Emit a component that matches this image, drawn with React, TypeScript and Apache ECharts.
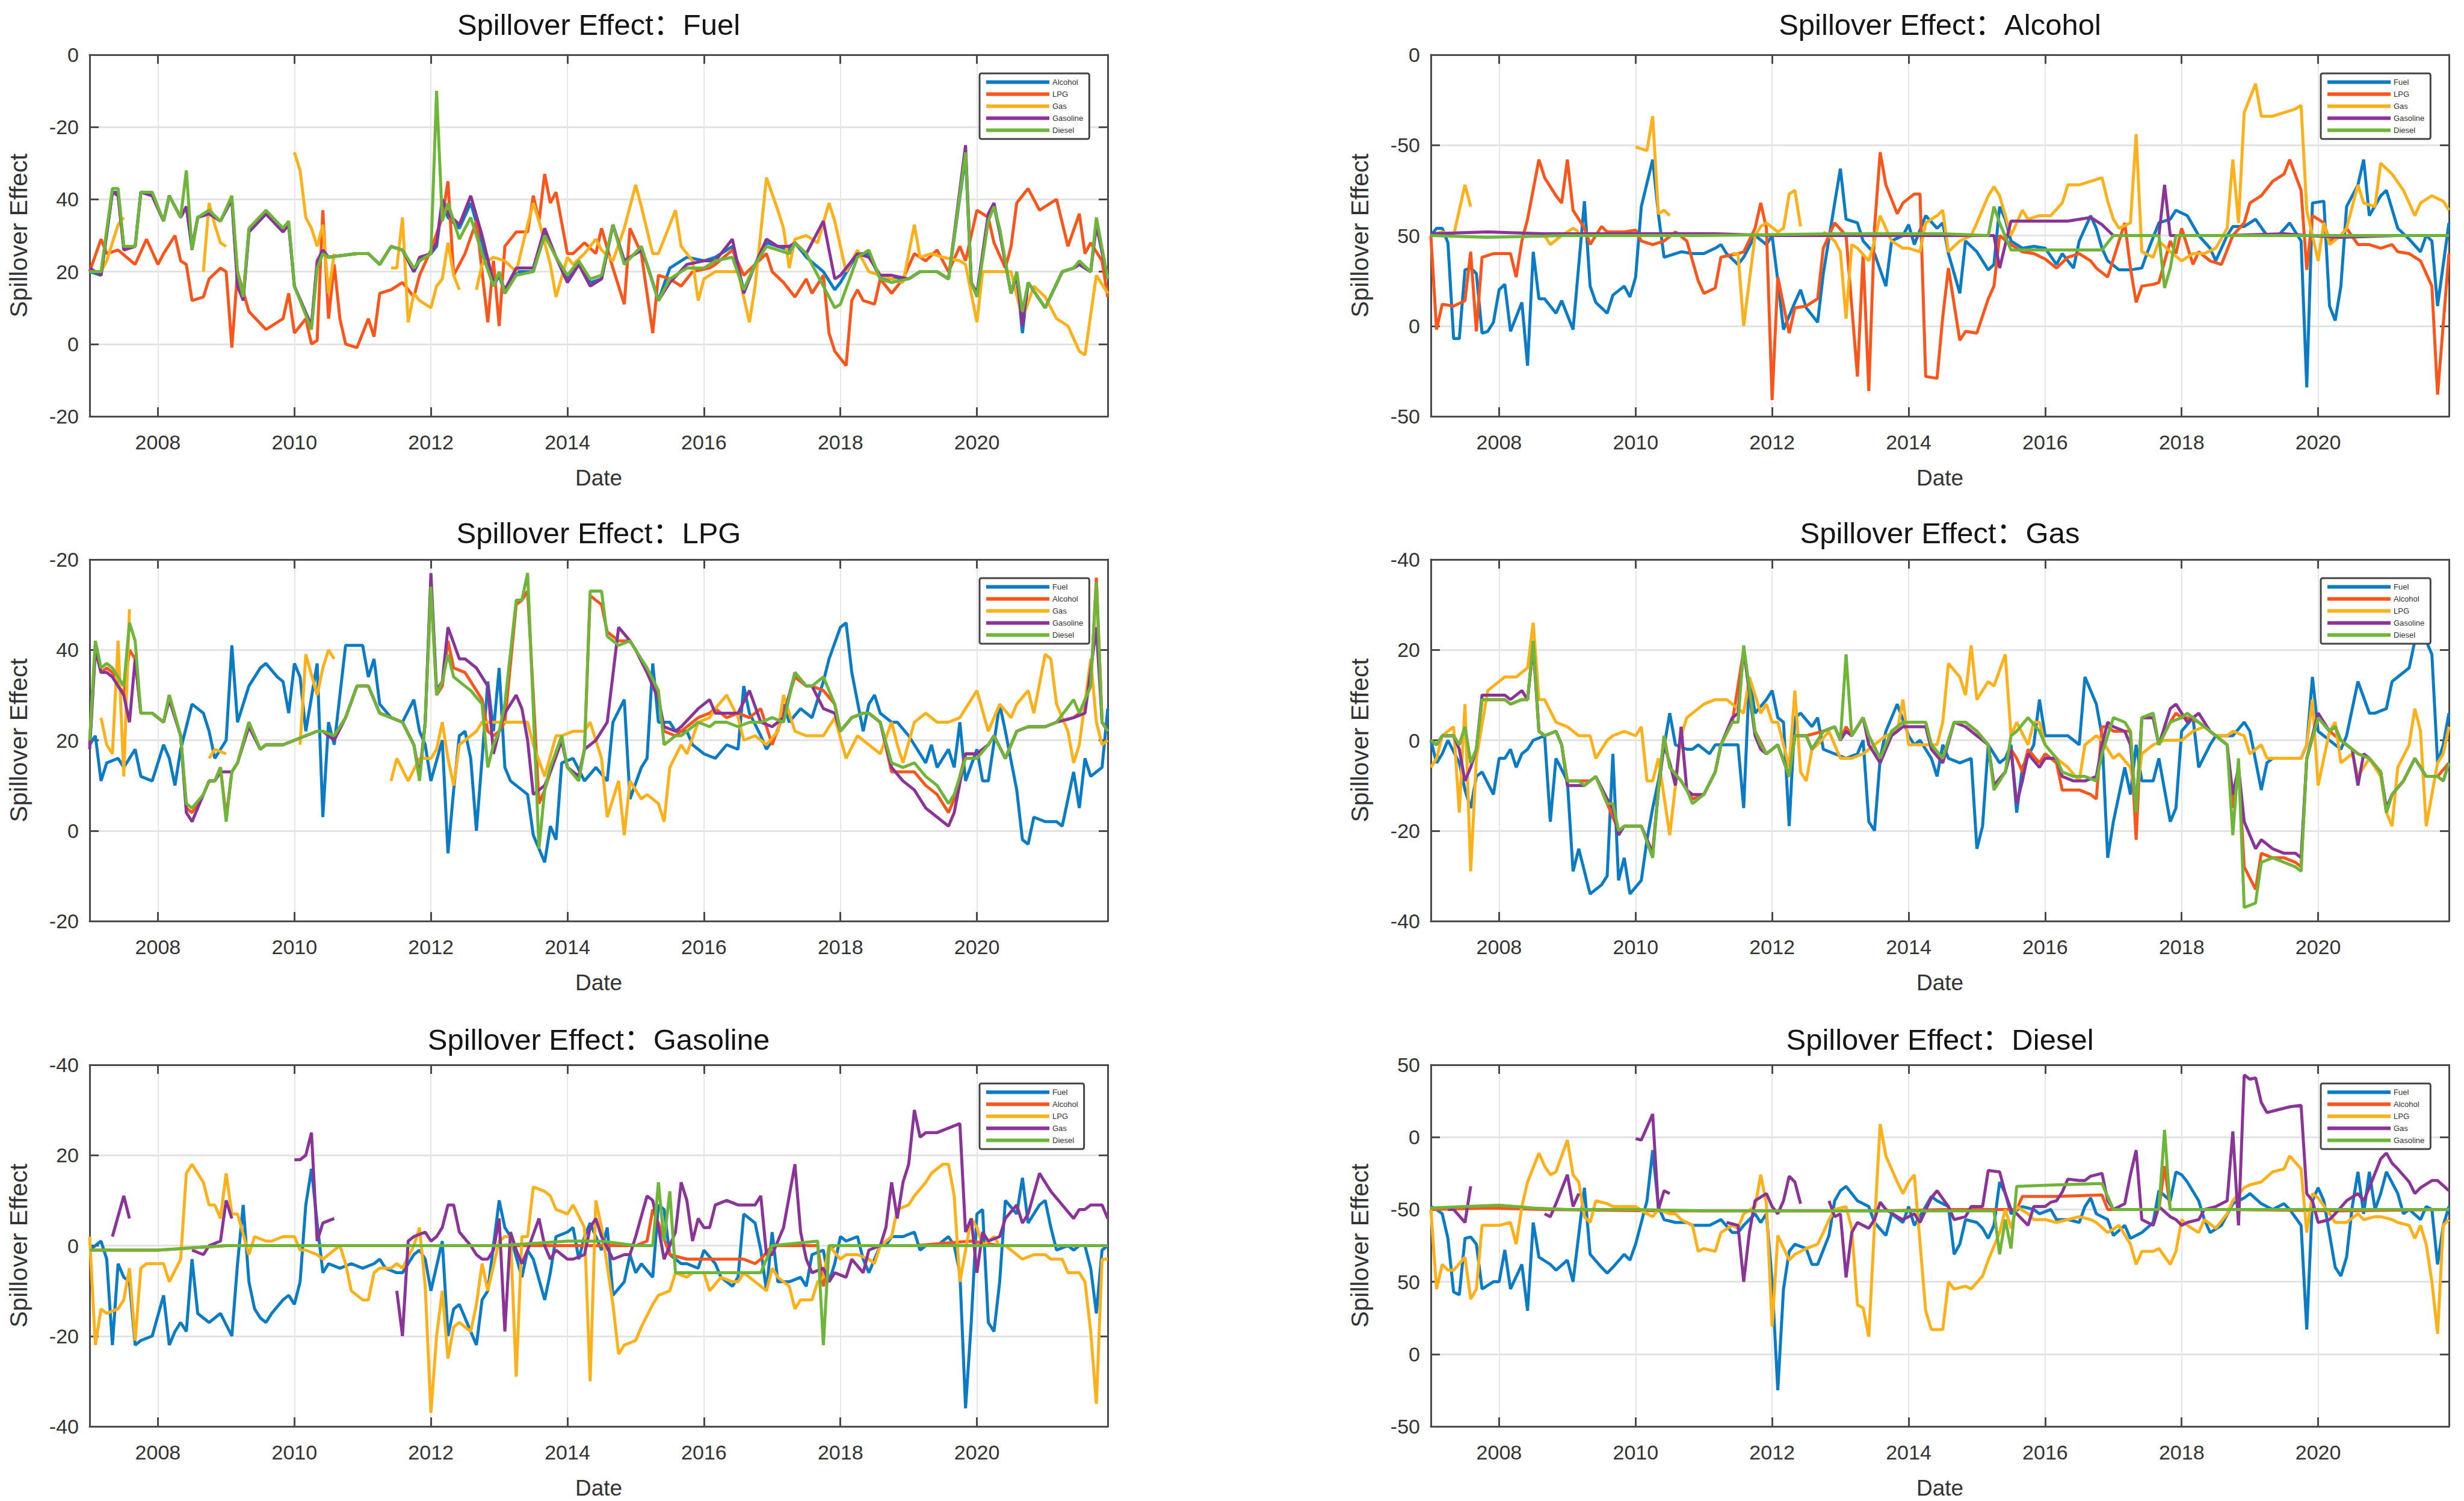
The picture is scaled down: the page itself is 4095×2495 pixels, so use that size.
import React, { useEffect, useRef } from "react";
import * as echarts from "echarts";

// ---------- categories (monthly, Jan 2007 .. Dec 2021) ----------
const MONTHS: string[] = [];
for (let y = 2007; y <= 2021; y++) for (let m = 1; m <= 12; m++) MONTHS.push(`${y}-${String(m).padStart(2, "0")}`);

// ---------- y tick labels as printed ----------
const fuelYTicks = [-20, 0, 20, 40, 60, 80];
const fuelYLabels = ["-20", "0", "20", "40", "-20", "0"];
const alcYTicks = [-50, 0, 50, 100, 150];
const alcYLabels = ["-50", "0", "50", "-50", "0"];
const lpgYTicks = [-20, 0, 20, 40, 60];
const lpgYLabels = ["-20", "0", "20", "40", "-20"];
const gasYTicks = [-40, -20, 0, 20, 40];
const gasYLabels = ["-40", "-20", "0", "20", "-40"];
const gslYTicks = [-40, -20, 0, 20, 40];
const gslYLabels = ["-40", "-20", "0", "20", "-40"];
const dslYTicks = [-50, 0, 50, 100, 150, 200];
const dslYLabels = ["-50", "0", "50", "-50", "0", "50"];

type P = [number, number | null];

// ---------- Fuel panel ----------
const fuelAlcohol: P[] = [[0,20],[2,19],[4,42],[5,42],[6,27],[8,27],[9,42],[11,41],[13,34],[14,41],[16,35],[17,38],[18,26],[19,35],[21,36],[23,34],[25,40],[26,17],[27,13],[28,31],[31,36],[34,31],[35,33],[36,16],[39,5],[40,22],[41,25],[42,24],[47,25],[49,25],[51,22],[53,27],[55,26],[57,20],[58,23],[60,25],[61,27],[62,39],[63,35],[65,32],[67,39],[69,28],[71,16],[72,19],[73,14],[75,20],[78,20],[80,31],[82,24],[84,18],[86,22],[88,17],[90,18],[92,33],[94,23],[97,26],[98,22],[100,12],[102,21],[105,24],[108,23],[110,24],[113,27],[115,15],[117,22],[119,28],[121,27],[123,26],[124,28],[126,24],[129,20],[131,15],[132,17],[135,25],[137,25],[139,18],[141,18],[144,18],[146,20],[149,20],[151,18],[154,52],[155,17],[156,14],[158,35],[159,38],[160,31],[162,14],[163,19],[164,3],[165,17],[168,10],[171,20],[173,21],[174,22],[176,20],[177,33],[179,18]];
const fuelLPG: P[] = [[0,20],[2,29],[3,25],[5,26],[8,22],[10,29],[12,22],[13,25],[15,30],[16,23],[17,22],[18,12],[20,13],[21,18],[23,21],[24,20],[25,-1],[26,20],[28,9],[31,4],[33,6],[34,7],[35,14],[36,3],[38,7],[39,0],[40,1],[41,37],[42,7],[43,22],[44,7],[45,0],[47,-1],[49,7],[50,2],[51,14],[53,15],[55,17],[57,13],[58,19],[60,26],[62,35],[63,45],[64,19],[66,25],[68,34],[70,6],[71,23],[72,5],[73,27],[75,31],[77,31],[78,41],[79,34],[80,47],[81,39],[82,42],[84,25],[85,25],[87,28],[89,25],[90,32],[92,21],[94,11],[95,32],[97,25],[99,3],[100,19],[102,18],[104,16],[106,20],[109,21],[110,22],[113,26],[115,19],[117,22],[119,25],[120,20],[122,17],[124,13],[126,18],[127,14],[129,19],[130,3],[131,-2],[133,-6],[134,12],[135,15],[136,12],[138,11],[139,18],[141,14],[143,18],[145,25],[147,23],[149,26],[151,20],[153,27],[154,23],[156,37],[158,35],[159,28],[161,21],[162,27],[163,39],[165,43],[167,37],[168,38],[170,40],[172,27],[174,36],[175,25],[176,28],[178,23],[179,13]];
const fuelGas: P[] = [[0,20],[2,20],[3,23],[4,28],[5,33],[6,35],[7,null],[20,20],[21,39],[22,33],[23,28],[24,27],[25,null],[36,53],[37,48],[38,35],[39,32],[40,27],[41,33],[42,14],[43,25],[44,null],[53,21],[54,21],[55,35],[56,6],[57,14],[58,12],[60,10],[61,16],[62,18],[63,28],[64,19],[65,15],[66,null],[68,15],[69,22],[71,24],[73,23],[75,20],[77,33],[78,39],[79,34],[81,22],[82,13],[84,24],[85,22],[87,25],[89,29],[90,26],[92,23],[94,32],[96,44],[97,38],[99,25],[100,25],[103,37],[104,27],[106,23],[107,12],[108,18],[110,20],[112,20],[114,20],[116,6],[117,16],[119,46],[121,37],[122,32],[123,21],[124,29],[126,30],[128,28],[130,39],[131,34],[133,20],[135,26],[137,20],[139,19],[141,18],[143,17],[145,33],[146,24],[148,25],[150,24],[153,23],[154,22],[156,6],[157,20],[160,20],[162,20],[164,7],[166,16],[168,13],[170,7],[172,5],[174,-2],[175,-3],[177,19],[179,14]];
const fuelGasoline: P[] = [[0,21],[2,19],[4,42],[5,41],[6,26],[8,27],[9,42],[11,41],[13,34],[14,41],[16,35],[17,38],[18,27],[19,35],[21,36],[23,34],[25,40],[26,16],[27,12],[28,31],[31,36],[34,31],[35,33],[36,16],[39,5],[40,23],[41,26],[42,24],[47,25],[49,25],[51,22],[53,27],[55,26],[57,20],[58,24],[60,25],[61,28],[62,40],[63,36],[65,33],[67,41],[69,30],[71,17],[72,19],[73,15],[75,21],[78,21],[80,32],[82,24],[84,17],[86,22],[88,16],[90,18],[92,33],[94,23],[97,26],[98,22],[100,12],[102,17],[105,22],[108,23],[110,23],[113,29],[115,14],[117,22],[119,29],[121,27],[123,27],[124,28],[126,25],[129,34],[131,18],[132,19],[135,25],[137,24],[139,19],[141,19],[144,18],[146,20],[149,20],[151,18],[154,55],[155,17],[156,14],[158,36],[159,39],[160,31],[162,14],[163,19],[164,5],[165,17],[168,10],[171,20],[173,21],[174,22],[176,20],[177,33],[179,18]];
const fuelDiesel: P[] = [[0,20],[2,20],[4,43],[5,43],[6,27],[8,27],[9,42],[11,42],[13,34],[14,41],[16,35],[17,48],[18,26],[19,35],[21,37],[23,34],[25,41],[26,20],[27,13],[28,32],[31,37],[34,32],[35,34],[36,16],[39,4],[40,21],[41,25],[42,24],[47,25],[49,25],[51,22],[53,27],[55,26],[57,21],[58,23],[60,25],[61,70],[62,34],[63,39],[65,29],[67,35],[69,25],[71,16],[72,20],[73,14],[75,19],[78,20],[80,30],[82,24],[84,19],[86,23],[88,18],[90,19],[92,33],[94,22],[97,27],[98,22],[100,12],[102,18],[105,21],[108,21],[110,23],[113,24],[115,15],[117,22],[119,27],[121,26],[123,25],[124,28],[126,25],[129,16],[131,10],[132,11],[135,24],[137,26],[139,18],[141,17],[144,18],[146,20],[149,20],[151,18],[154,53],[155,17],[156,13],[158,34],[159,38],[160,32],[162,14],[163,20],[164,9],[165,17],[168,10],[171,20],[173,21],[174,23],[176,20],[177,35],[179,18]];

// ---------- Alcohol panel ----------
const alcFuel: P[] = [[0,50],[1,54],[2,54],[3,46],[4,-7],[5,-7],[6,31],[7,32],[8,29],[9,-4],[10,-3],[11,2],[12,20],[13,23],[14,-3],[16,13],[17,-22],[18,41],[19,15],[20,15],[22,7],[23,14],[25,-2],[27,69],[28,22],[29,13],[31,7],[32,17],[34,22],[35,16],[36,27],[37,66],[39,92],[40,62],[41,38],[43,40],[44,41],[46,40],[48,40],[50,43],[51,45],[52,40],[54,34],[55,38],[57,50],[59,45],[60,50],[61,25],[62,-2],[64,13],[65,20],[66,10],[68,2],[69,29],[71,68],[72,87],[73,59],[75,57],[76,47],[78,40],[80,22],[81,47],[83,50],[84,56],[85,45],[87,61],[89,54],[90,57],[91,40],[93,18],[94,47],[95,44],[96,41],[98,31],[99,34],[100,66],[101,59],[102,47],[104,43],[106,44],[108,43],[110,34],[111,40],[113,32],[114,47],[116,61],[117,54],[118,43],[119,36],[121,31],[123,31],[125,32],[126,41],[128,57],[130,59],[131,64],[133,61],[135,50],[137,43],[138,36],[140,50],[141,55],[143,55],[145,59],[147,50],[149,50],[151,57],[153,47],[154,-34],[155,68],[157,69],[158,11],[159,3],[160,22],[161,66],[163,78],[164,92],[165,61],[167,72],[168,75],[170,54],[172,48],[174,41],[175,50],[176,47],[177,11],[179,57]];
const alcLPG: P[] = [[0,50],[1,-2],[2,12],[4,11],[6,14],[7,41],[8,-3],[9,38],[11,40],[14,40],[15,27],[16,47],[17,59],[19,92],[20,82],[22,72],[23,68],[24,92],[25,64],[27,54],[28,45],[30,55],[31,52],[34,52],[36,53],[37,47],[39,45],[41,47],[43,52],[45,47],[47,25],[48,18],[50,21],[51,38],[54,40],[55,41],[57,54],[58,68],[59,54],[60,-41],[61,27],[63,-4],[64,10],[66,11],[68,15],[69,43],[70,50],[71,57],[73,50],[75,-28],[76,40],[77,-36],[78,54],[79,96],[80,78],[82,62],[83,68],[85,73],[86,73],[87,-28],[89,-29],[90,5],[91,32],[93,-8],[94,-3],[96,-4],[98,15],[99,22],[100,50],[102,45],[104,41],[106,40],[108,37],[110,32],[112,38],[114,40],[116,36],[117,32],[119,27],[121,47],[122,57],[123,32],[124,13],[125,22],[127,23],[128,24],[130,47],[131,40],[132,54],[134,34],[135,41],[137,36],[139,34],[141,50],[143,57],[144,68],[146,72],[148,80],[150,84],[151,92],[153,75],[154,31],[155,61],[157,57],[158,47],[160,50],[161,54],[163,45],[165,45],[167,43],[169,45],[170,41],[172,40],[174,36],[176,22],[177,-38],[179,40]];
const alcGas: P[] = [[0,50],[2,52],[4,50],[6,78],[7,66],[8,null],[20,50],[21,45],[23,50],[25,54],[26,52],[27,null],[36,99],[38,97],[39,116],[40,62],[41,64],[42,61],[43,null],[53,40],[54,40],[55,0],[57,50],[58,55],[59,57],[61,52],[62,54],[63,73],[64,75],[65,55],[66,null],[69,52],[71,47],[72,41],[73,4],[74,45],[75,43],[77,36],[78,47],[79,61],[80,54],[81,47],[83,43],[84,43],[86,41],[87,57],[89,61],[90,64],[91,41],[93,47],[95,50],[96,57],[98,72],[99,77],[100,72],[102,50],[104,64],[105,59],[107,61],[109,61],[111,68],[112,78],[114,78],[116,80],[118,82],[119,69],[120,59],[121,54],[123,57],[124,106],[125,41],[127,38],[128,47],[130,41],[132,36],[134,40],[136,40],[138,43],[140,54],[141,92],[142,57],[143,118],[145,134],[146,116],[148,116],[150,118],[152,120],[153,122],[154,64],[156,36],[157,57],[158,45],[160,50],[161,54],[163,78],[164,68],[166,66],[167,90],[169,84],[171,75],[173,61],[174,68],[176,72],[178,69],[179,64]];
const alcGasoline: P[] = [[0,51],[10,52],[20,51],[30,51],[40,51],[50,51],[60,50],[70,50],[80,50],[90,50],[99,50],[100,32],[102,58],[105,58],[112,58],[116,60],[118,56],[120,50],[128,50],[129,78],[130,50],[140,50],[150,51],[154,50],[160,49],[170,50],[179,50]];
const alcDiesel: P[] = [[0,50],[10,49],[24,50],[48,50],[72,51],[90,51],[98,50],[99,66],[100,57],[102,42],[110,42],[118,42],[120,50],[128,50],[129,21],[130,32],[131,50],[150,50],[165,50],[179,50]];

// ---------- LPG panel ----------
const lpgFuel: P[] = [[0,19],[1,21],[2,11],[3,15],[5,16],[6,14],[8,18],[9,12],[11,11],[13,19],[14,16],[15,10],[16,18],[18,28],[20,26],[21,22],[22,16],[24,20],[25,41],[26,24],[28,32],[30,36],[31,37],[33,34],[34,33],[35,26],[36,37],[37,34],[38,22],[40,37],[41,3],[42,24],[43,19],[45,41],[46,41],[48,41],[49,34],[50,38],[51,28],[53,25],[55,24],[57,29],[58,22],[59,19],[60,11],[62,20],[63,-5],[64,9],[65,21],[66,22],[67,16],[68,0],[69,16],[70,33],[71,22],[72,36],[73,14],[74,11],[76,9],[77,8],[78,-1],[80,-7],[81,1],[82,-2],[83,15],[85,16],[87,11],[89,14],[91,11],[92,24],[94,29],[95,7],[97,14],[98,16],[99,37],[100,24],[102,24],[103,22],[105,22],[106,19],[108,17],[110,16],[112,19],[114,18],[115,32],[116,26],[118,21],[119,18],[121,22],[122,28],[123,24],[125,27],[127,25],[129,33],[130,38],[132,45],[133,46],[134,35],[136,22],[137,28],[138,30],[139,26],[141,24],[142,24],[144,21],[146,17],[147,15],[148,19],[149,14],[151,18],[152,14],[153,24],[154,11],[156,18],[157,11],[158,11],[160,28],[161,22],[163,9],[164,-2],[165,-3],[166,3],[168,2],[170,2],[171,1],[173,13],[174,5],[175,16],[176,12],[178,14],[179,27]];
const lpgAlcohol: P[] = [[0,19],[1,41],[2,35],[3,36],[4,35],[6,30],[7,40],[8,38],[9,26],[11,26],[13,24],[14,30],[16,21],[17,5],[18,4],[20,8],[21,11],[22,11],[23,14],[24,3],[25,13],[26,15],[28,24],[30,18],[31,19],[34,19],[36,20],[38,21],[40,22],[41,22],[43,21],[45,25],[47,32],[49,32],[51,26],[53,25],[55,24],[57,19],[58,12],[59,24],[60,55],[61,30],[62,32],[63,42],[64,36],[66,35],[67,33],[69,29],[70,22],[71,21],[72,22],[73,24],[75,50],[76,51],[77,53],[78,30],[79,6],[80,9],[81,13],[83,20],[84,14],[86,12],[87,18],[88,52],[90,50],[91,44],[93,42],[95,42],[96,40],[98,35],[100,30],[101,22],[103,21],[104,22],[107,25],[109,26],[110,27],[112,25],[114,26],[116,25],[118,27],[120,19],[122,26],[124,34],[126,32],[127,32],[129,31],[131,28],[132,22],[134,25],[136,26],[137,26],[139,24],[141,13],[143,13],[145,13],[147,10],[149,8],[151,4],[152,7],[154,17],[156,17],[158,19],[159,21],[161,16],[163,22],[165,23],[168,23],[170,24],[173,25],[174,26],[176,32],[177,56],[178,24],[179,22]];
const lpgGas: P[] = [[2,25],[3,19],[4,17],[5,42],[6,12],[7,49],[8,null],[21,16],[22,18],[24,17],[25,null],[37,19],[38,39],[40,30],[41,36],[42,40],[43,38],[44,null],[53,11],[54,16],[56,11],[58,16],[60,16],[61,18],[62,24],[63,16],[64,10],[65,19],[68,22],[69,24],[71,24],[73,24],[75,24],[77,24],[78,19],[80,12],[82,21],[83,21],[85,22],[87,22],[88,24],[90,16],[91,3],[93,11],[94,-1],[95,11],[97,7],[98,8],[100,6],[101,2],[102,14],[104,19],[105,17],[107,24],[109,25],[110,27],[112,30],[114,25],[115,20],[117,21],[119,19],[121,22],[122,30],[124,22],[126,21],[127,21],[129,21],[131,25],[133,16],[135,21],[137,19],[139,17],[141,24],[142,19],[143,15],[145,24],[147,26],[149,24],[151,24],[153,25],[154,27],[156,31],[158,22],[159,25],[160,28],[162,25],[163,28],[165,31],[166,26],[168,39],[169,38],[170,28],[172,22],[173,15],[174,19],[176,38],[177,24],[178,19],[179,20]];
const lpgGasoline: P[] = [[0,18],[1,40],[2,35],[3,35],[4,34],[6,30],[7,24],[8,38],[9,26],[11,26],[13,24],[14,29],[16,21],[17,4],[18,2],[20,8],[21,11],[22,11],[23,13],[24,13],[25,13],[26,15],[28,23],[30,18],[31,19],[34,19],[36,20],[38,21],[40,22],[41,22],[43,20],[45,25],[47,32],[49,32],[51,26],[53,25],[55,24],[57,19],[58,12],[59,24],[60,57],[61,31],[62,33],[63,45],[65,38],[66,38],[68,36],[70,32],[71,17],[72,22],[73,26],[75,30],[76,27],[77,20],[78,8],[79,9],[80,10],[81,13],[83,20],[84,14],[86,12],[87,18],[89,20],[91,24],[93,45],[95,42],[96,40],[98,35],[100,29],[101,23],[103,22],[104,23],[107,27],[109,29],[110,26],[112,26],[114,26],[116,31],[118,24],[120,23],[122,25],[124,35],[126,32],[127,32],[129,27],[131,26],[132,22],[134,25],[136,26],[137,26],[139,24],[141,14],[143,11],[145,9],[147,5],[149,3],[151,1],[152,4],[154,17],[156,17],[158,19],[159,21],[161,16],[163,22],[165,23],[168,23],[170,24],[173,25],[175,26],[177,45],[178,24],[179,22]];
const lpgDiesel: P[] = [[0,20],[1,42],[2,36],[3,37],[4,36],[6,32],[7,46],[8,42],[9,26],[11,26],[13,24],[14,30],[16,21],[17,6],[18,5],[20,8],[21,11],[22,11],[23,14],[24,2],[25,13],[26,15],[28,24],[30,18],[31,19],[34,19],[36,20],[38,21],[40,22],[41,22],[43,21],[45,25],[47,32],[49,32],[51,26],[53,25],[55,24],[57,19],[58,11],[59,24],[60,54],[61,30],[62,33],[63,39],[64,34],[66,32],[67,31],[69,28],[70,14],[71,19],[72,22],[73,28],[75,51],[76,51],[77,57],[78,27],[79,-4],[80,9],[81,14],[83,21],[84,14],[86,11],[87,18],[88,53],[90,53],[91,43],[93,41],[95,42],[96,40],[98,36],[100,31],[101,19],[103,21],[104,21],[107,24],[109,23],[110,24],[112,24],[114,23],[116,24],[118,24],[120,25],[122,24],[124,35],[126,32],[127,32],[129,34],[131,28],[132,22],[134,25],[136,26],[137,26],[139,24],[141,15],[143,14],[145,15],[147,12],[149,10],[151,6],[152,8],[154,16],[156,16],[158,19],[159,21],[161,16],[163,22],[165,23],[168,23],[170,24],[173,29],[174,26],[176,32],[177,55],[178,24],[179,22]];

// ---------- Gas panel ----------
const gasFuel: P[] = [[0,0],[1,-5],[2,-3],[3,0],[5,-5],[6,-11],[7,-15],[8,-8],[9,-7],[11,-12],[12,-4],[13,-4],[14,-2],[15,-6],[16,-3],[17,-2],[18,0],[20,1],[21,-18],[22,-4],[24,-9],[25,-29],[26,-24],[27,-29],[28,-34],[29,-33],[30,-32],[31,-30],[32,-3],[33,-31],[34,-26],[35,-34],[37,-31],[38,-22],[39,-15],[40,-9],[42,6],[43,-1],[45,-2],[46,-2],[47,-1],[49,-3],[50,-1],[52,-1],[54,-1],[55,-15],[56,14],[57,6],[59,9],[60,11],[61,5],[62,4],[63,-19],[64,5],[65,6],[67,3],[68,5],[69,-2],[71,-3],[73,-4],[75,-3],[76,0],[77,-18],[78,-20],[79,-4],[80,2],[82,8],[84,1],[85,-1],[86,0],[88,-4],[89,-8],[90,-1],[91,-4],[93,-5],[95,-4],[96,-24],[97,-19],[98,-1],[100,-5],[101,-4],[102,-1],[103,-16],[104,-6],[106,-1],[107,9],[108,1],[110,1],[112,1],[114,-1],[115,14],[117,8],[118,1],[119,-26],[120,-18],[122,-6],[123,-12],[124,-1],[125,-9],[127,-9],[128,-4],[130,-18],[131,-15],[132,2],[134,5],[135,-6],[137,-1],[138,1],[140,1],[141,1],[143,4],[144,2],[146,-11],[147,-5],[148,-4],[150,-4],[152,-4],[153,-4],[154,-1],[155,14],[156,2],[158,0],[160,-2],[161,1],[163,13],[165,6],[166,6],[168,7],[169,13],[170,14],[172,16],[173,22],[175,22],[176,19],[177,-5],[178,-1],[179,6]];
const gasAlcohol: P[] = [[0,0],[1,-1],[2,1],[4,1],[5,-1],[6,3],[7,-5],[8,-2],[9,9],[11,9],[13,9],[14,8],[16,9],[17,9],[18,21],[19,2],[20,1],[22,2],[23,-1],[24,-9],[26,-9],[28,-9],[29,-8],[31,-14],[33,-20],[34,-19],[37,-19],[39,-25],[40,-11],[41,1],[42,-6],[44,-9],[46,-13],[48,-12],[50,-7],[51,-1],[53,4],[55,20],[57,2],[59,-3],[61,-1],[63,-8],[64,1],[66,1],[69,2],[71,3],[72,0],[73,3],[74,1],[76,5],[77,1],[79,-4],[81,2],[83,4],[87,4],[88,-1],[90,-4],[92,4],[94,4],[96,2],[98,-1],[99,-10],[101,-7],[102,-2],[103,-4],[104,-7],[105,-2],[107,-5],[108,-3],[110,-5],[111,-11],[112,-11],[114,-11],[116,-12],[117,-13],[118,3],[119,3],[120,2],[123,2],[124,-22],[125,5],[127,5],[128,-1],[130,4],[131,6],[132,5],[133,5],[135,4],[137,2],[138,1],[140,-1],[141,-15],[142,-6],[143,-28],[145,-33],[146,-25],[148,-26],[150,-26],[152,-27],[153,-28],[154,-4],[156,5],[158,2],[160,0],[162,-2],[163,-3],[165,-4],[167,-7],[168,-16],[169,-12],[171,-9],[173,-4],[175,-8],[177,-8],[179,-5]];
const gasLPG: P[] = [[0,-6],[1,-4],[2,1],[4,3],[5,-16],[6,8],[7,-29],[8,-4],[10,11],[11,12],[13,14],[15,14],[17,16],[18,26],[19,9],[20,9],[22,4],[24,3],[26,1],[28,1],[29,-4],[31,0],[32,1],[34,2],[36,1],[37,3],[38,-9],[39,-9],[40,-4],[42,-21],[43,-10],[44,1],[45,5],[47,7],[48,8],[50,9],[52,9],[54,7],[55,6],[56,14],[58,6],[59,8],[60,4],[61,4],[63,-6],[64,11],[65,-7],[66,-9],[67,-2],[68,-1],[70,2],[71,-1],[72,-4],[74,-4],[76,-3],[78,-1],[80,1],[82,2],[83,9],[84,-1],[85,-1],[87,-1],[89,-1],[90,4],[91,17],[93,14],[94,10],[95,21],[96,9],[98,13],[99,12],[101,19],[102,1],[103,4],[105,-1],[106,4],[107,4],[108,-1],[110,-4],[112,-6],[114,-9],[115,-1],[117,1],[118,0],[120,-4],[121,-3],[123,-6],[124,-13],[125,-3],[127,-1],[129,0],[130,0],[132,0],[134,2],[136,3],[138,1],[140,1],[141,2],[143,1],[144,-3],[146,-1],[147,-4],[149,-4],[151,-4],[153,-4],[154,-1],[155,9],[156,-10],[158,2],[159,4],[160,-5],[162,-3],[163,-8],[165,-4],[167,-8],[168,-16],[169,-19],[170,-6],[172,-1],[173,7],[174,2],[175,-19],[177,-5],[178,-3],[179,3]];
const gasGasoline: P[] = [[0,0],[1,-1],[2,1],[4,1],[5,-2],[6,-9],[7,-6],[8,-2],[9,10],[11,10],[13,10],[14,9],[16,11],[17,9],[18,21],[19,2],[20,1],[22,2],[23,-1],[24,-10],[26,-10],[27,-10],[28,-9],[29,-8],[31,-13],[32,-15],[33,-21],[34,-19],[36,-19],[37,-19],[39,-25],[40,-11],[41,-1],[42,-5],[43,-10],[44,3],[45,-11],[46,-12],[48,-12],[50,-7],[51,-1],[53,5],[54,6],[55,20],[57,1],[58,-2],[59,-3],[61,-1],[63,-8],[64,1],[66,1],[67,-2],[69,2],[71,3],[72,0],[73,2],[74,1],[76,5],[77,-1],[79,-5],[81,1],[83,3],[85,3],[87,3],[88,-2],[90,-5],[92,4],[94,3],[96,1],[98,-1],[99,-10],[101,-7],[102,-2],[103,-14],[104,-9],[105,-3],[107,-6],[108,-4],[110,-4],[111,-8],[113,-9],[115,-9],[117,-8],[118,-1],[119,4],[120,3],[122,2],[123,-1],[124,-15],[125,5],[127,5],[128,-1],[130,7],[131,8],[132,6],[133,4],[135,6],[137,2],[138,1],[140,-1],[141,-12],[142,-6],[143,-18],[145,-24],[146,-22],[148,-24],[150,-25],[152,-25],[153,-26],[154,-4],[156,6],[158,2],[159,3],[160,0],[162,-2],[163,-10],[164,-3],[165,-4],[167,-7],[168,-15],[169,-12],[171,-9],[173,-4],[175,-8],[177,-8],[178,-9],[179,-5]];
const gasDiesel: P[] = [[0,0],[1,-1],[2,1],[4,1],[5,-1],[6,3],[7,-5],[8,-2],[9,9],[11,9],[13,9],[14,8],[16,9],[17,9],[18,22],[19,2],[20,1],[22,2],[23,-1],[24,-9],[26,-9],[27,-10],[28,-9],[29,-8],[31,-14],[32,-14],[33,-20],[34,-19],[36,-19],[37,-19],[39,-26],[40,-11],[41,1],[42,-6],[44,-9],[45,-11],[46,-14],[48,-12],[50,-7],[51,-1],[53,4],[54,4],[55,21],[57,2],[58,-1],[59,-3],[61,-1],[63,-8],[64,1],[66,1],[67,-2],[69,2],[71,3],[72,0],[73,19],[74,1],[76,5],[77,1],[79,-4],[81,2],[83,4],[85,4],[87,4],[88,-1],[90,-4],[92,4],[94,4],[96,2],[98,-1],[99,-11],[101,-7],[102,1],[103,2],[105,5],[107,2],[108,-1],[110,-4],[111,-7],[113,-8],[115,-8],[117,-9],[118,-3],[120,5],[122,4],[123,2],[124,-16],[125,5],[127,6],[128,-1],[130,4],[132,5],[133,6],[135,4],[137,2],[138,1],[140,-1],[141,-21],[142,-4],[143,-37],[145,-36],[146,-27],[148,-26],[150,-27],[152,-28],[153,-29],[154,-4],[156,5],[158,2],[159,3],[160,0],[162,-2],[163,-3],[165,-4],[167,-7],[168,-16],[169,-12],[171,-9],[173,-4],[175,-8],[177,-8],[178,-9],[179,-5]];

// ---------- Gasoline panel ----------
const gslFuel: P[] = [[0,-1],[2,1],[3,-3],[4,-22],[5,-4],[6,-7],[7,-8],[8,-22],[9,-21],[11,-20],[13,-11],[14,-22],[15,-19],[16,-17],[17,-19],[18,-3],[19,-15],[21,-17],[22,-16],[23,-15],[25,-20],[26,-4],[27,9],[28,-8],[29,-14],[30,-16],[31,-17],[32,-15],[34,-12],[35,-11],[36,-13],[37,-8],[38,9],[39,17],[40,5],[41,-6],[42,-4],[44,-5],[46,-4],[48,-5],[50,-4],[51,-3],[52,-5],[54,-6],[55,-6],[57,-2],[58,-1],[59,-3],[60,-10],[62,1],[63,-20],[64,-14],[65,-13],[66,-16],[68,-22],[69,-12],[70,-10],[71,0],[72,10],[73,4],[74,2],[76,-7],[77,-1],[78,-3],[80,-12],[81,-6],[82,2],[84,3],[85,4],[86,-3],[87,2],[88,5],[90,-1],[91,4],[92,-11],[94,-8],[95,-2],[96,-6],[97,-4],[99,-7],[100,9],[101,8],[102,-2],[104,-4],[105,-4],[107,-5],[108,-1],[110,-4],[111,-7],[113,-9],[114,-7],[115,7],[117,5],[118,-1],[119,-10],[120,3],[121,-8],[123,-8],[125,-7],[126,-9],[127,-2],[129,-1],[130,-8],[131,-4],[132,2],[133,1],[135,2],[136,-3],[137,-6],[139,0],[140,0],[141,2],[143,2],[145,3],[146,-1],[147,0],[149,0],[151,2],[152,0],[153,-6],[154,-36],[155,-17],[156,7],[157,8],[158,-17],[159,-19],[160,-8],[161,10],[163,7],[164,15],[165,5],[167,9],[168,10],[169,4],[170,-1],[172,0],[173,-1],[174,0],[175,0],[176,-5],[177,-15],[178,-1],[179,0]];
const gslAlcohol: P[] = [[0,-1],[12,-1],[24,0],[36,0],[48,0],[60,0],[72,0],[84,0],[96,0],[98,1],[99,8],[100,5],[102,-2],[105,-3],[110,-3],[115,-3],[117,-4],[118,-3],[120,0],[128,0],[129,-9],[130,-1],[131,0],[145,0],[155,1],[160,0],[179,0]];
const gslLPG: P[] = [[0,2],[1,-22],[2,-14],[3,-15],[5,-14],[6,-12],[7,-5],[8,-21],[9,-5],[10,-4],[11,-4],[13,-4],[14,-8],[16,-3],[17,16],[18,18],[20,14],[21,9],[22,9],[23,6],[24,16],[25,7],[26,7],[28,-2],[29,2],[31,1],[32,1],[34,2],[36,2],[37,-1],[38,-1],[40,-2],[41,-3],[43,-1],[44,0],[45,-4],[46,-10],[48,-12],[49,-12],[50,-6],[51,-5],[53,-5],[54,-4],[55,-5],[57,0],[58,4],[59,-9],[60,-37],[61,-20],[62,-10],[63,-25],[64,-18],[65,-17],[67,-19],[68,-13],[69,-4],[70,-10],[72,1],[73,2],[74,2],[75,-29],[76,2],[77,2],[78,13],[80,12],[81,11],[82,8],[84,7],[85,9],[87,4],[88,-30],[89,10],[90,4],[92,-13],[93,-24],[94,-22],[96,-21],[97,-18],[99,-13],[100,-11],[102,-10],[103,-6],[105,-7],[106,-6],[108,-6],[109,-10],[111,-7],[113,-8],[114,-8],[115,-6],[117,-8],[119,-10],[120,-5],[121,-7],[123,-9],[124,-14],[125,-12],[127,-12],[128,-8],[129,-7],[130,0],[132,-3],[133,-2],[135,-2],[137,-3],[138,-4],[139,0],[141,2],[142,8],[144,9],[145,11],[147,14],[148,16],[150,18],[151,18],[152,11],[153,-8],[155,6],[156,4],[157,0],[159,2],[160,0],[161,0],[163,-2],[164,-3],[166,-2],[168,-2],[169,-3],[171,-3],[172,-6],[174,-6],[175,-8],[176,-19],[177,-35],[178,-3],[179,-3]];
const gslGas: P[] = [[4,2],[6,11],[7,6],[8,null],[18,-1],[20,-2],[21,0],[23,1],[24,10],[25,6],[26,null],[36,19],[37,19],[38,20],[39,25],[40,1],[41,5],[43,6],[44,null],[54,-10],[55,-20],[56,1],[57,2],[59,3],[60,1],[61,2],[62,4],[63,9],[64,9],[65,3],[67,0],[68,-2],[69,-3],[70,-3],[71,-1],[72,6],[73,-19],[74,3],[75,-1],[76,-4],[77,-1],[79,6],[80,0],[81,-3],[82,-1],[84,-3],[85,-3],[87,-2],[88,4],[89,6],[90,2],[92,-3],[94,-2],[95,-2],[96,2],[98,11],[99,10],[100,4],[101,-3],[103,3],[104,14],[105,10],[106,1],[107,6],[108,4],[109,4],[110,9],[112,10],[114,9],[115,9],[117,9],[118,11],[119,-2],[120,-2],[121,1],[122,4],[124,18],[125,3],[126,-3],[127,-6],[129,-5],[130,-8],[131,-6],[133,-7],[134,-3],[136,-6],[137,-1],[139,0],[140,4],[141,14],[142,6],[143,14],[144,18],[145,30],[146,24],[147,25],[149,25],[151,26],[153,27],[154,3],[155,6],[156,-6],[157,3],[158,1],[160,2],[161,6],[163,9],[164,5],[165,7],[167,16],[168,14],[169,12],[171,9],[173,6],[174,8],[175,8],[176,9],[178,9],[179,6]];
const gslDiesel: P[] = [[0,-1],[12,-1],[24,0],[48,0],[72,0],[84,1],[90,1],[96,0],[99,0],[100,14],[101,1],[102,12],[103,-6],[110,-6],[118,-6],[120,0],[128,1],[129,-22],[130,0],[145,0],[160,0],[179,0]];

// ---------- Diesel panel ----------
const dslFuel: P[] = [[0,102],[1,100],[2,97],[3,80],[4,43],[5,41],[6,80],[7,81],[8,76],[9,45],[11,50],[12,50],[13,72],[14,45],[16,62],[17,30],[18,91],[19,67],[21,62],[22,58],[24,65],[25,50],[27,115],[28,69],[30,60],[31,56],[32,60],[34,69],[35,65],[36,76],[38,106],[39,141],[40,102],[41,93],[43,91],[45,91],[46,89],[48,89],[49,89],[51,93],[53,84],[54,84],[55,89],[57,97],[58,91],[59,97],[60,50],[61,-25],[62,45],[63,71],[64,76],[66,73],[67,62],[68,62],[70,82],[71,106],[72,113],[73,116],[75,106],[76,104],[77,102],[78,91],[80,82],[81,97],[83,91],[84,102],[85,89],[87,102],[88,109],[89,106],[91,102],[92,69],[93,76],[94,93],[96,91],[97,87],[98,80],[99,89],[100,119],[101,111],[102,97],[104,102],[106,100],[107,97],[109,100],[110,93],[112,93],[114,91],[115,102],[116,108],[117,97],[119,93],[120,82],[122,89],[123,80],[125,84],[127,91],[128,113],[130,106],[131,126],[132,124],[133,119],[135,106],[136,93],[137,84],[139,89],[141,104],[143,108],[144,111],[146,104],[148,100],[150,104],[151,100],[153,89],[154,17],[155,106],[156,115],[157,106],[159,60],[160,54],[161,67],[162,102],[163,126],[164,97],[165,126],[166,100],[167,111],[168,126],[170,111],[171,97],[172,100],[174,93],[175,102],[176,100],[177,62],[178,89],[179,102]];
const dslAlcohol: P[] = [[0,100],[10,101],[20,100],[40,99],[60,99],[80,99],[90,100],[103,100],[104,109],[110,109],[118,110],[119,100],[128,100],[129,130],[130,100],[140,100],[160,99],[179,100]];
const dslLPG: P[] = [[0,100],[1,45],[2,62],[3,58],[4,58],[6,67],[7,38],[8,45],[9,89],[10,89],[12,89],[14,91],[15,76],[16,102],[17,119],[19,139],[20,130],[21,124],[22,126],[24,148],[25,124],[26,119],[27,95],[28,91],[29,106],[31,104],[32,102],[35,102],[36,102],[38,97],[39,95],[40,100],[42,97],[43,97],[44,93],[46,89],[47,71],[48,73],[50,71],[51,84],[53,89],[54,87],[55,97],[57,102],[58,124],[59,104],[60,19],[61,82],[63,65],[64,69],[65,71],[66,73],[68,76],[69,84],[70,93],[71,100],[73,102],[74,87],[75,34],[76,32],[77,12],[78,89],[79,159],[80,137],[82,119],[83,111],[84,119],[85,124],[87,30],[88,17],[90,17],[91,50],[92,45],[94,47],[95,45],[97,54],[98,65],[100,84],[101,100],[102,87],[103,102],[105,97],[106,93],[108,93],[110,91],[112,93],[114,95],[116,93],[117,91],[119,84],[121,89],[123,76],[124,62],[125,71],[127,71],[128,73],[130,62],[131,71],[132,93],[133,89],[135,84],[136,93],[138,87],[140,97],[141,106],[143,115],[144,117],[146,119],[148,126],[150,128],[151,137],[153,128],[154,84],[155,111],[156,108],[158,97],[159,91],[161,91],[163,97],[164,93],[166,95],[167,95],[169,93],[170,91],[172,89],[173,80],[174,89],[175,76],[176,50],[177,14],[178,89],[179,93]];
const dslGas: P[] = [[3,100],[4,100],[6,91],[7,116],[8,null],[20,97],[21,95],[22,104],[24,124],[25,102],[26,111],[27,null],[36,149],[37,148],[39,166],[40,100],[41,113],[42,111],[43,null],[52,91],[54,89],[55,50],[56,84],[57,106],[59,111],[60,102],[61,97],[62,106],[63,123],[64,119],[65,104],[66,null],[70,106],[71,95],[72,97],[73,53],[74,84],[75,91],[77,87],[78,93],[79,105],[80,100],[82,95],[83,93],[85,97],[86,91],[88,108],[89,113],[91,102],[92,93],[94,95],[95,102],[97,102],[98,127],[100,126],[101,111],[102,100],[103,97],[105,89],[106,102],[108,102],[109,105],[110,106],[111,112],[112,121],[114,120],[115,120],[116,123],[118,125],[119,106],[120,100],[122,104],[123,124],[124,141],[125,93],[127,89],[128,102],[130,95],[131,93],[132,89],[133,91],[135,93],[136,100],[138,102],[140,106],[141,154],[142,89],[143,193],[144,190],[145,191],[146,174],[147,167],[149,169],[151,171],[153,172],[154,111],[155,106],[156,91],[158,93],[159,97],[161,106],[163,111],[164,106],[165,115],[167,135],[168,139],[169,132],[170,128],[172,119],[173,111],[174,115],[176,120],[177,120],[179,113]];
const dslGasoline: P[] = [[0,101],[6,102],[12,103],[18,101],[24,100],[36,100],[48,99],[72,99],[96,99],[99,99],[100,69],[101,93],[102,73],[103,116],[110,117],[118,118],[120,100],[128,100],[129,155],[130,100],[150,100],[179,100]];

// ---------- panel definitions ----------
const COLORS = ["#0b7bc3", "#f8561c", "#fbb11b", "#8b3497", "#6fb539"];
const FONT = "'Liberation Sans', Arial, 'Noto Sans CJK SC', sans-serif";

const PANELS = [
  { key: "fuel", title: "Spillover Effect：Fuel", names: ["Alcohol", "LPG", "Gas", "Gasoline", "Diesel"], data: [fuelAlcohol, fuelLPG, fuelGas, fuelGasoline, fuelDiesel], min: -20, max: 80, step: 20, ticks: fuelYTicks, labels: fuelYLabels },
  { key: "alc", title: "Spillover Effect：Alcohol", names: ["Fuel", "LPG", "Gas", "Gasoline", "Diesel"], data: [alcFuel, alcLPG, alcGas, alcGasoline, alcDiesel], min: -50, max: 150, step: 50, ticks: alcYTicks, labels: alcYLabels },
  { key: "lpg", title: "Spillover Effect：LPG", names: ["Fuel", "Alcohol", "Gas", "Gasoline", "Diesel"], data: [lpgFuel, lpgAlcohol, lpgGas, lpgGasoline, lpgDiesel], min: -20, max: 60, step: 20, ticks: lpgYTicks, labels: lpgYLabels },
  { key: "gas", title: "Spillover Effect：Gas", names: ["Fuel", "Alcohol", "LPG", "Gasoline", "Diesel"], data: [gasFuel, gasAlcohol, gasLPG, gasGasoline, gasDiesel], min: -40, max: 40, step: 20, ticks: gasYTicks, labels: gasYLabels },
  { key: "gsl", title: "Spillover Effect：Gasoline", names: ["Fuel", "Alcohol", "LPG", "Gas", "Diesel"], data: [gslFuel, gslAlcohol, gslLPG, gslGas, gslDiesel], min: -40, max: 40, step: 20, ticks: gslYTicks, labels: gslYLabels },
  { key: "dsl", title: "Spillover Effect：Diesel", names: ["Fuel", "Alcohol", "LPG", "Gas", "Gasoline"], data: [dslFuel, dslAlcohol, dslLPG, dslGas, dslGasoline], min: -50, max: 200, step: 50, ticks: dslYTicks, labels: dslYLabels },
];

const W = 4095, H = 2495;
const COL_LEFT = [149, 2378];
const ROW_TOP = [91, 930, 1770];
const TITLE_TOP = [16, 861, 1703];
const GW = 1692, GH = 601;

const yearTick = (i: number) => i >= 12 && (i - 12) % 24 === 0;

function buildOption() {
  const grid: any[] = [], title: any[] = [], xAxis: any[] = [], yAxis: any[] = [], legend: any[] = [], series: any[] = [];
  const axisCol = "#4a4a4a";
  PANELS.forEach((p, i) => {
    const col = i % 2, row = Math.floor(i / 2);
    const left = COL_LEFT[col], top = ROW_TOP[row];
    grid.push({ left, top, width: GW, height: GH, containLabel: false });
    title.push({
      text: p.title, left: left + GW / 2, top: TITLE_TOP[row], textAlign: "center", padding: 0,
      textStyle: { fontFamily: FONT, fontSize: 49, fontWeight: "normal", color: "#151515" },
    });
    const xBase = {
      type: "category", gridIndex: i, data: MONTHS, boundaryGap: false,
      axisLine: { show: true, onZero: false, lineStyle: { color: axisCol, width: 3 } },
      axisTick: { show: true, inside: true, length: 15, interval: (idx: number) => yearTick(idx), lineStyle: { color: axisCol, width: 3 } },
    };
    xAxis.push({
      ...xBase, position: "bottom",
      axisLabel: { interval: (idx: number) => yearTick(idx), formatter: (v: string) => v.slice(0, 4), fontFamily: FONT, fontSize: 34, color: "#333", margin: 26 },
      splitLine: { show: true, interval: (idx: number) => yearTick(idx), lineStyle: { color: "#e6e6e6", width: 2 } },
      name: "Date", nameLocation: "middle", nameGap: 84,
      nameTextStyle: { fontFamily: FONT, fontSize: 37, color: "#333" },
    });
    xAxis.push({ ...xBase, position: "top", axisLabel: { show: false }, splitLine: { show: false } });
    const yBase = {
      type: "value", gridIndex: i, min: p.min, max: p.max, interval: p.step,
      axisLine: { show: true, onZero: false, lineStyle: { color: axisCol, width: 3 } },
      axisTick: { show: true, inside: true, length: 15, lineStyle: { color: axisCol, width: 3 } },
    };
    yAxis.push({
      ...yBase, position: "left",
      axisLabel: {
        fontFamily: FONT, fontSize: 34, color: "#333", margin: 18,
        formatter: (v: number) => { const j = p.ticks.indexOf(v); return j >= 0 ? p.labels[j] : ""; },
      },
      splitLine: { show: true, lineStyle: { color: "#e3e3e3", width: 3 } },
      name: "Spillover Effect", nameLocation: "middle", nameGap: 98, nameRotate: 90,
      nameTextStyle: { fontFamily: FONT, fontSize: 41, color: "#333" },
    });
    yAxis.push({ ...yBase, position: "right", axisLabel: { show: false }, splitLine: { show: false } });

    const names = p.names.map((n) => `${p.key}|${n}`);
    legend.push({
      data: names, orient: "vertical", left: left + GW - 213, top: top + 31,
      selectedMode: false, icon: "rect", itemWidth: 105, itemHeight: 6, itemGap: 7, itemTextGap: 6,
      formatter: (n: string) => n.split("|")[1],
      textStyle: { fontFamily: FONT, fontSize: 13, color: "#333" },
      backgroundColor: "#ffffff", borderColor: "#444", borderWidth: 3, borderRadius: 3,
      padding: [8, 10, 8, 11],
    });
    p.data.forEach((d, k) => {
      series.push({
        type: "line", name: names[k], xAxisIndex: 2 * i, yAxisIndex: 2 * i,
        data: d.map(([t, v]) => [t, v === null ? "-" : v]),
        showSymbol: false, symbol: "none", connectNulls: false,
        color: COLORS[k], itemStyle: { color: COLORS[k] },
        lineStyle: { color: COLORS[k], width: 5 },
        emphasis: { disabled: true }, z: 2 + k,
      });
    });
  });
  return { animation: false, backgroundColor: "#ffffff", grid, title, xAxis, yAxis, legend, series };
}

export default function App() {
  const ref = useRef<HTMLDivElement>(null);
  useEffect(() => {
    if (!ref.current) return;
    const chart = echarts.init(ref.current, undefined, { renderer: "svg" });
    chart.setOption(buildOption() as any);
    return () => chart.dispose();
  }, []);
  return <div ref={ref} style={{ position: "absolute", left: 0, top: 0, width: W, height: H, background: "#fff" }} />;
}
